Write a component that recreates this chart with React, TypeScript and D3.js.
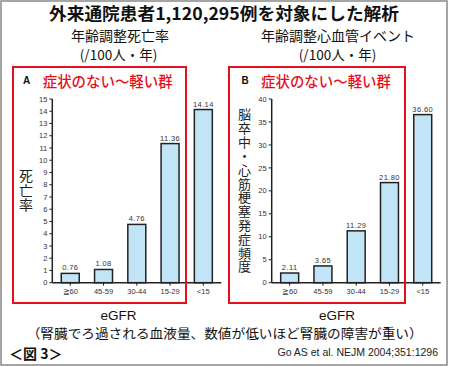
import React from "react";
import { scaleBand, scaleLinear, range } from "d3";

const categories = ["≧60", "45-59", "30-44", "15-29", "<15"];
const mortality = [0.76, 1.08, 4.76, 11.36, 14.14];
const cvEvents = [2.11, 3.65, 11.29, 21.8, 36.6];

const mortalityTicks = range(0, 16, 1);
const cvTicks = range(0, 41, 5);

const jp = "'Noto Sans CJK JP', 'Noto Sans', sans-serif";
const latin = "'Liberation Sans', Arial, sans-serif";
const red = "#e60f1e";
const barFill = "#c2e4f7";
const ink = "#222";

const Panel = ({ x0, values, ticks, titleX, yTitle, titleTop, titleLen, titleSize }) => {
  const yScale = scaleLinear()
    .domain([0, ticks[ticks.length - 1]])
    .range([282.7, 99]);
  const xScale = scaleBand()
    .domain(categories)
    .range([x0, x0 + 169])
    .paddingInner(0.46)
    .paddingOuter(0.27);
  const xEnd = x0 + 169;

  return (
    <g>
      {/* y axis */}
      <line x1={x0} x2={x0} y1={yScale.range()[1]} y2={yScale(0)} stroke={ink} strokeWidth={1.5} />
      {ticks.map((t) => (
        <g key={t} transform={`translate(${x0},${yScale(t)})`}>
          <line x1={-3} x2={0} stroke={ink} strokeWidth={1} />
          <text x={-5} dy="0.35em" textAnchor="end" fontSize={7.5} fontFamily={latin} fill="#333">
            {t}
          </text>
        </g>
      ))}
      {/* bars */}
      {values.map((v, i) => (
        <g key={i}>
          <rect
            x={xScale(categories[i])}
            y={yScale(v)}
            width={xScale.bandwidth()}
            height={yScale(0) - yScale(v)}
            fill={barFill}
            stroke={ink}
            strokeWidth={1.5}
          />
          <text
            x={xScale(categories[i]) + xScale.bandwidth() / 2}
            y={yScale(v) - 3}
            textAnchor="middle"
            fontSize={7.5}
            fontFamily={latin}
            fill="#333"
            letterSpacing={0.4}
          >
            {v.toFixed(2)}
          </text>
        </g>
      ))}
      {/* x axis */}
      <line x1={x0} x2={xEnd} y1={yScale(0)} y2={yScale(0)} stroke={ink} strokeWidth={1.5} />
      {categories.map((c) => (
        <g key={c} transform={`translate(${xScale(c) + xScale.bandwidth() / 2},${yScale(0)})`}>
          <line y1={0} y2={3} stroke={ink} strokeWidth={1} />
          <text y={11.5} textAnchor="middle" fontSize={7.5} fontFamily={latin} fill="#333">
            {c}
          </text>
        </g>
      ))}
      {/* vertical axis title */}
      <text
        x={titleX}
        y={titleTop}
        style={{ writingMode: "vertical-rl" }}
        fontSize={titleSize}
        fontFamily={jp}
        fill="#222"
        textLength={titleLen}
        lengthAdjust="spacing"
      >
        {yTitle}
      </text>
    </g>
  );
};

export default function App() {
  return (
    <svg width={450} height={366} style={{ position: "absolute", left: 0, top: 0, background: "#fff" }}>
      <rect x={1} y={1} width={446} height={364} fill="#fff" stroke="#888" strokeWidth={1.5} />
      <text x={224} y={20} textAnchor="middle" fontSize={17} fontWeight={700} fontFamily={jp} textLength={350} lengthAdjust="spacingAndGlyphs" fill="#111">
        外来通院患者1,120,295例を対象にした解析
      </text>
      <text x={120} y={41} textAnchor="middle" fontSize={14} fontFamily={jp} fill="#111">年齢調整死亡率</text>
      <text x={118.5} y={60} textAnchor="middle" fontSize={13.5} fontFamily={jp} fill="#111">(/100人・年)</text>
      <text x={338} y={41} textAnchor="middle" fontSize={14} fontFamily={jp} fill="#111">年齢調整心血管イベント</text>
      <text x={337.5} y={60} textAnchor="middle" fontSize={13.5} fontFamily={jp} fill="#111">(/100人・年)</text>

      <Panel x0={52.3} values={mortality} ticks={mortalityTicks} titleX={26} yTitle="死亡率" titleTop={169} titleLen={43} titleSize={14} />
      <Panel x0={271.7} values={cvEvents} ticks={cvTicks} titleX={244.5} yTitle="脳卒中・心筋梗塞発症頻度" titleTop={108} titleLen={165} titleSize={13} />

      <rect x={13} y={67} width={173} height={236} fill="none" stroke={red} strokeWidth={2} />
      <rect x={229} y={67} width={176} height={236} fill="none" stroke={red} strokeWidth={2} />
      <text x={23} y={83.5} fontSize={10} fontWeight={700} fontFamily={latin} fill="#111">A</text>
      <text x={241.5} y={83.5} fontSize={10} fontWeight={700} fontFamily={latin} fill="#111">B</text>
      <text x={42.7} y={87} fontSize={14.5} fontWeight={500} fontFamily={jp} fill={red} textLength={130} lengthAdjust="spacingAndGlyphs">症状のない〜軽い群</text>
      <text x={261} y={87} fontSize={14.5} fontWeight={500} fontFamily={jp} fill={red} textLength={130} lengthAdjust="spacingAndGlyphs">症状のない〜軽い群</text>

      <text x={118.5} y={319.8} textAnchor="middle" fontSize={13.5} fontFamily={latin} fill="#111">eGFR</text>
      <text x={337} y={319.8} textAnchor="middle" fontSize={13.5} fontFamily={latin} fill="#111">eGFR</text>
      <text x={224.7} y={338} textAnchor="middle" fontSize={13} fontFamily={jp} fill="#111" textLength={396} lengthAdjust="spacingAndGlyphs">
        （腎臓でろ過される血液量、数値が低いほど腎臓の障害が重い）
      </text>
      <text x={9} y={359} fontSize={14} fontWeight={700} fontFamily={jp} fill="#111">＜図 3＞</text>
      <text x={438} y={356} textAnchor="end" fontSize={10.5} fontFamily={latin} fill="#222">Go AS et al. NEJM 2004;351:1296</text>
    </svg>
  );
}
